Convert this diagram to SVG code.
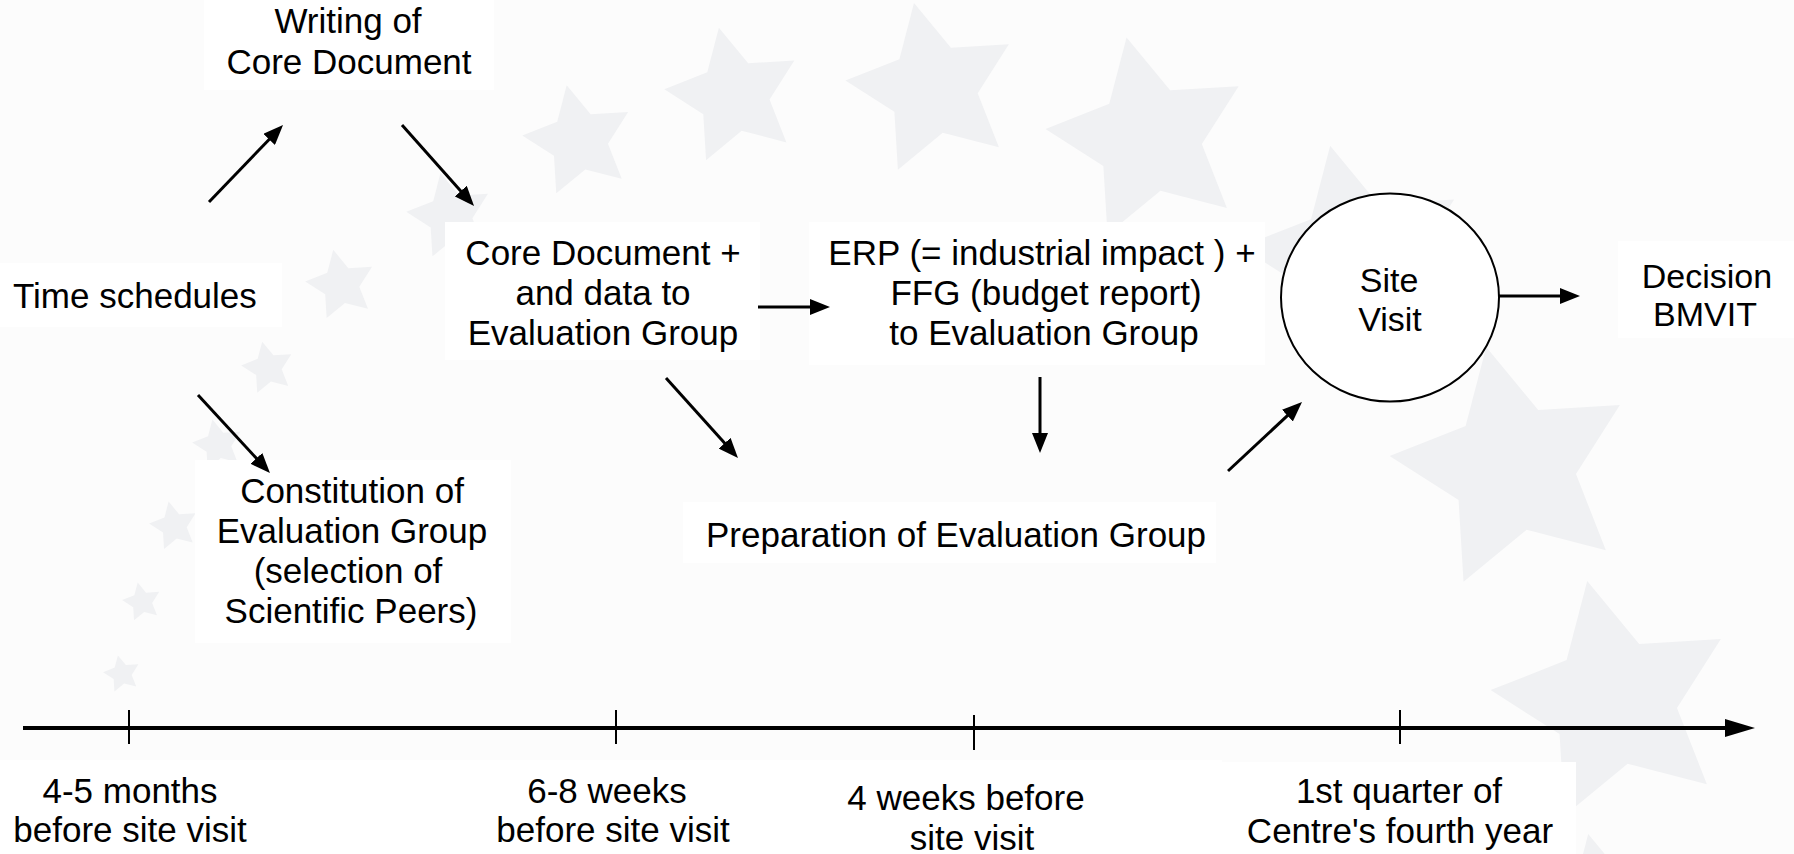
<svg xmlns="http://www.w3.org/2000/svg" xmlns:xlink="http://www.w3.org/1999/xlink" width="1794" height="854" viewBox="0 0 1794 854">
<style>
  text { font-family: "Liberation Sans", Arial, sans-serif; font-size: 35px; fill: #000; }
  .c { text-anchor: middle; }
  .sm { font-size: 34px; }
  .box { fill: #ffffff; stroke: none; }
  .star { fill: #f0f1f3; }
  .conn { stroke: #000; stroke-width: 3; fill: none; }
</style>
<defs>
  <path id="star" d="M-21.6,-97.6 L20.3,-46.8 L86.2,-50.8 L50.8,4.9 L74.9,66.3 L11,49.8 L-39.9,91.7 L-43.9,25.9 L-99.5,-9.6 L-38.2,-33.8 Z"/>
  <marker id="ah" markerUnits="userSpaceOnUse" markerWidth="20" markerHeight="16" refX="10" refY="8" orient="auto">
    <path d="M0,0 L20,8 L0,16 Z" fill="#000"/>
  </marker>
  <marker id="ahl" markerUnits="userSpaceOnUse" markerWidth="30" markerHeight="18" refX="15" refY="9" orient="auto">
    <path d="M0,0 L30,9 L0,18 Z" fill="#000"/>
  </marker>
</defs>
<rect x="0" y="0" width="1794" height="854" fill="#fcfcfc"/>
<g id="stars" class="star">
  <use xlink:href="#star" href="#star" transform="translate(122,674) scale(0.19)"/>
  <use xlink:href="#star" href="#star" transform="translate(142,602) scale(0.20)"/>
  <use xlink:href="#star" href="#star" transform="translate(174,526) scale(0.25)"/>
  <use xlink:href="#star" href="#star" transform="translate(218,445) scale(0.26)"/>
  <use xlink:href="#star" href="#star" transform="translate(268,368) scale(0.27)"/>
  <use xlink:href="#star" href="#star" transform="translate(341,285) scale(0.36)"/>
  <use xlink:href="#star" href="#star" transform="translate(450,216) scale(0.44)"/>
  <use xlink:href="#star" href="#star" transform="translate(579,141) scale(0.57)"/>
  <use xlink:href="#star" href="#star" transform="translate(734,96) scale(0.70)"/>
  <use xlink:href="#star" href="#star" transform="translate(933,89) scale(0.88)"/>
  <use xlink:href="#star" href="#star" transform="translate(1149,139) scale(1.04)"/>
  <use xlink:href="#star" href="#star" transform="translate(1355,258) scale(1.15)"/>
  <use xlink:href="#star" href="#star" transform="translate(1513,468) scale(1.24)"/>
  <use xlink:href="#star" href="#star" transform="translate(1614,702) scale(1.24)"/>
  <use xlink:href="#star" href="#star" transform="translate(1615,955) scale(1.24)"/>
</g>
<g id="node-writing">
  <rect class="box" x="204" y="0" width="290" height="90"/>
  <text class="c" x="348" y="33">Writing of</text>
  <text class="c" x="349" y="74">Core Document</text>
</g>
<g id="node-time">
  <rect class="box" x="0" y="263" width="282" height="64"/>
  <text x="13" y="308">Time schedules</text>
</g>
<g id="node-coredoc">
  <rect class="box" x="445" y="222" width="315" height="138"/>
  <text class="c" x="603" y="265">Core Document +</text>
  <text class="c" x="603" y="305">and data to</text>
  <text class="c" x="603" y="345">Evaluation Group</text>
</g>
<g id="node-erp">
  <rect class="box" x="809" y="222" width="456" height="143"/>
  <text class="c" x="1042" y="265">ERP (= industrial impact ) +</text>
  <text class="c" x="1046" y="305">FFG (budget report)</text>
  <text class="c" x="1044" y="345">to Evaluation Group</text>
</g>
<g id="node-constitution">
  <rect class="box" x="195" y="460" width="316" height="183"/>
  <text class="c" x="352" y="503">Constitution of</text>
  <text class="c" x="352" y="543">Evaluation Group</text>
  <text class="c" x="348" y="583">(selection of</text>
  <text class="c" x="351" y="623">Scientific Peers)</text>
</g>
<g id="node-preparation">
  <rect class="box" x="683" y="502" width="533" height="61"/>
  <text x="706" y="547">Preparation of Evaluation Group</text>
</g>
<g id="node-sitevisit">
  <ellipse cx="1390" cy="297.5" rx="109" ry="104" fill="#ffffff" stroke="#000" stroke-width="2"/>
  <text class="c sm" x="1389" y="292">Site</text>
  <text class="c sm" x="1390" y="331">Visit</text>
</g>
<g id="node-decision">
  <rect class="box" x="1618" y="241" width="176" height="97"/>
  <text class="c sm" x="1707" y="288">Decision</text>
  <text class="c sm" x="1705" y="326">BMVIT</text>
</g>
<g id="timeline-labels">
  <rect class="box" x="0" y="760" width="270" height="94"/>
  <rect class="box" x="270" y="760" width="545" height="94"/>
  <rect class="box" x="815" y="760" width="407" height="94"/>
  <rect class="box" x="1222" y="762" width="354" height="92"/>
  <text class="c" x="130" y="803">4-5 months</text>
  <text class="c" x="130" y="842">before site visit</text>
  <text class="c" x="607" y="803">6-8 weeks</text>
  <text class="c" x="613" y="842">before site visit</text>
  <text class="c" x="966" y="810">4 weeks before</text>
  <text class="c" x="972" y="850">site visit</text>
  <text class="c" x="1399" y="803">1st quarter of</text>
  <text class="c" x="1400" y="843">Centre's fourth year</text>
</g>
<g id="connectors">
  <line class="conn" x1="209" y1="202" x2="276.1" y2="132.2" marker-end="url(#ah)"/>
  <line class="conn" x1="402" y1="125" x2="467.4" y2="198.5" marker-end="url(#ah)"/>
  <line class="conn" x1="198" y1="395" x2="263.2" y2="465.7" marker-end="url(#ah)"/>
  <line class="conn" x1="758" y1="307" x2="820" y2="307" stroke-width="4" marker-end="url(#ah)"/>
  <line class="conn" x1="666" y1="378" x2="731.3" y2="450.6" marker-end="url(#ah)"/>
  <line class="conn" x1="1040" y1="377" x2="1040" y2="443" marker-end="url(#ah)"/>
  <line class="conn" x1="1228" y1="471" x2="1294.7" y2="408.8" marker-end="url(#ah)"/>
  <line class="conn" x1="1499" y1="296" x2="1570" y2="296" marker-end="url(#ah)"/>
</g>
<g id="timeline">
  <line x1="23" y1="728" x2="1740" y2="728" stroke="#000" stroke-width="4" marker-end="url(#ahl)"/>
  <line x1="129" y1="710" x2="129" y2="744" stroke="#000" stroke-width="2"/>
  <line x1="616" y1="710" x2="616" y2="744" stroke="#000" stroke-width="2"/>
  <line x1="974" y1="715" x2="974" y2="750" stroke="#000" stroke-width="2"/>
  <line x1="1400" y1="710" x2="1400" y2="744" stroke="#000" stroke-width="2"/>
</g>
</svg>
